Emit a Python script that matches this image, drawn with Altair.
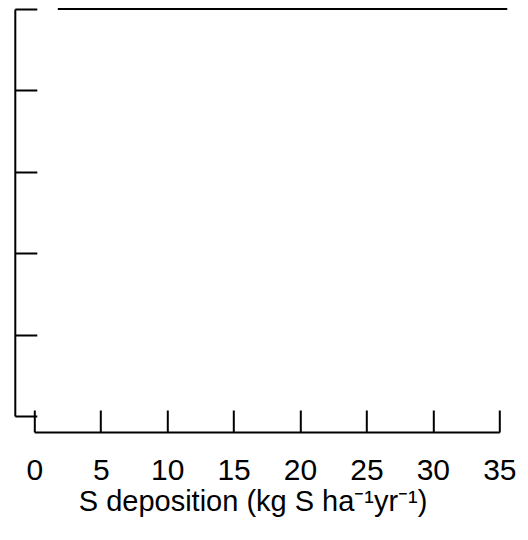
import altair as alt
import pandas as pd

# Data
line_x = [1.77, 35.6]
line_y = [1.0, 1.0]
x_ticks = [0, 5, 10, 15, 20, 25, 30, 35]
y_ticks = [0.0, 0.2, 0.4, 0.6, 0.8, 1.0]
x_title = "S deposition (kg S ha\u207b\u00b9yr\u207b\u00b9)"

df = pd.DataFrame({"x": line_x, "y": line_y})

W = 465
H = 407
FONT = "Liberation Sans"

xscale = alt.Scale(domain=[0, 35], nice=False, zero=False)
yscale = alt.Scale(domain=[0, 1], nice=False, zero=False)

yaxis = alt.Axis(orient="right", offset=-(W + 19.5), values=y_ticks,
                 labels=False, title=None, grid=False, ticks=True,
                 tickSize=22, tickColor="black", tickWidth=2,
                 domain=True, domainColor="black", domainWidth=2)

main = alt.Chart(df).mark_line(color="black", strokeWidth=2, clip=False).encode(
    x=alt.X("x:Q", scale=xscale, title=x_title,
            axis=alt.Axis(orient="bottom", offset=16, values=x_ticks, ticks=False,
                          tickSize=0, domain=True, domainColor="black", domainWidth=2,
                          labelFontSize=30, labelFont=FONT, labelColor="black",
                          labelPadding=24, labelFlush=False, grid=False,
                          titleFont=FONT, titleFontSize=29, titleFontWeight="normal",
                          titleColor="black", titlePadding=2, titleBaseline="top",
                          titleAlign="left", titleAnchor="start", titleX=44)),
    y=alt.Y("y:Q", scale=yscale, axis=yaxis),
)

ticks_layer = alt.Chart(df).mark_point(opacity=0).encode(
    x=alt.X("x:Q", scale=xscale, title=None,
            axis=alt.Axis(orient="top", offset=-(H + 16), values=x_ticks,
                          labels=False, domain=False, grid=False, ticks=True,
                          tickSize=22, tickColor="black", tickWidth=2)),
    y=alt.Y("y:Q", scale=yscale, axis=yaxis),
)

chart = alt.layer(main, ticks_layer).resolve_axis(x="independent").properties(
    width=W, height=H,
    autosize=alt.AutoSizeParams(type="none"),
    padding={"left": 26.3, "top": 1, "right": 20, "bottom": 110},
).configure_view(stroke=None)

chart.save("out.html", embed_options={"renderer": "svg", "actions": False})
